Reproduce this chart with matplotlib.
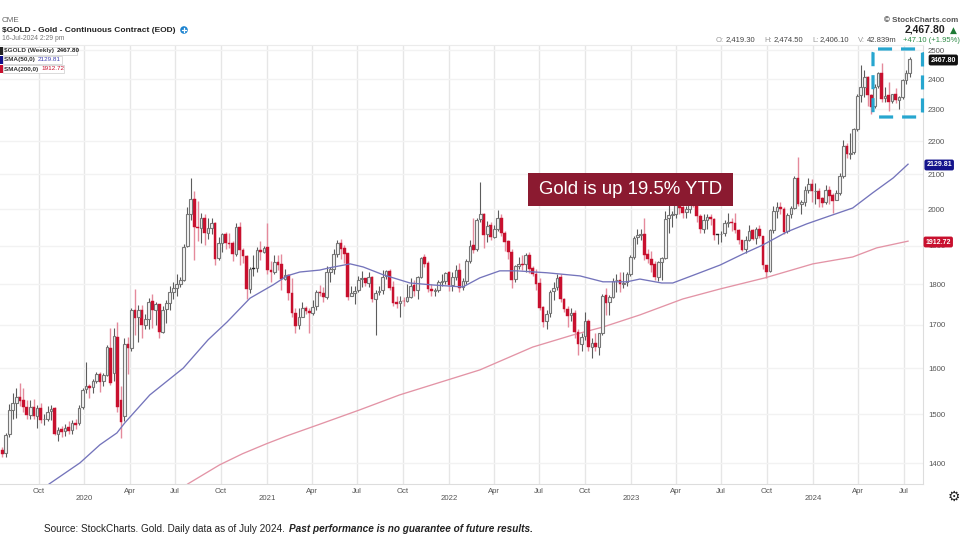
import numpy as np
import pandas as pd
import matplotlib
matplotlib.use("Agg")
import matplotlib.pyplot as plt
import matplotlib.dates as mdates
from matplotlib.patches import Rectangle, Circle, FancyBboxPatch

week_close = [1419,1457,1509,1523,1537,1529,1515,1499,1515,1497,1512,1488,1490,1505,1511,1459,1468,1463,1472,1465,1481,1478,1514,
1552,1560,1557,1571,1587,1570,1584,1649,1566,1674,1516,1484,1654,1645,1736,1717,1735,1700,1713,1756,1735,1751,1683,1737,1753,1780,1790,1801,1810,1897,1985,2028,1949,1947,1975,1934,1947,1962,1866,1907,1930,1906,1905,1879,1951,1889,1872,1788,1840,1840,1888,1883,
1895,1835,1830,1856,1850,1813,1823,1778,1728,1698,1719,1741,1733,1728,1744,1780,1777,1768,1831,1838,1877,1906,1892,1879,1769,1778,1784,1811,1815,1802,1817,1763,1779,1784,1819,1833,1791,1754,1751,1758,1757,1768,1796,1784,1818,1868,1852,1788,1783,1784,1805,1808,1829,
1797,1817,1835,1791,1807,1859,1900,1889,1970,1985,1929,1954,1923,1945,1974,1934,1911,1882,1811,1846,1851,1850,1875,1840,1826,1801,1742,1708,1727,1781,1791,1816,1762,1738,1722,1728,1683,1655,1672,1709,1648,1657,1648,1681,1771,1754,1768,1809,1810,1800,1804,1826,
1869,1921,1928,1929,1876,1865,1850,1817,1856,1867,1973,1983,1986,2011,2004,1990,1999,2025,2019,1981,1944,1969,1977,1971,1929,1929,1932,1961,1962,1960,1942,1914,1889,1915,1940,1919,1945,1925,1848,1832,1942,1994,2006,1999,1938,1984,2003,2089,2014,2019,2053,2071,
2050,2051,2029,2018,2053,2038,2024,2046,2095,2185,2161,2165,2238,2345,2374,2406,2347,2309,2375,2419,2335,2345,2325,2349,2331,2339,2397,2421,2467.8]

week_open = [1426,1420,1458,1509,1523,1537,1530,1515,1499,1516,1497,1513,1489,1490,1506,1512,1459,1469,1464,1473,1466,1482,1481,
1515,1553,1561,1558,1572,1586,1571,1585,1645,1590,1672,1530,1497,1655,1645,1735,1718,1735,1700,1713,1757,1736,1750,1684,1738,1754,1781,1791,1801,1811,1898,1986,2028,1950,1948,1975,1935,1948,1962,1867,1908,1931,1907,1906,1879,1951,1888,1872,1789,1841,1841,1888,
1884,1896,1836,1831,1857,1851,1814,1824,1779,1729,1699,1720,1742,1734,1729,1745,1781,1778,1769,1832,1839,1878,1907,1893,1880,1770,1779,1785,1812,1816,1803,1818,1764,1780,1785,1820,1834,1792,1755,1752,1759,1758,1769,1797,1785,1819,1869,1853,1789,1784,1785,1806,1809,
1830,1798,1818,1836,1792,1808,1860,1901,1890,1971,1986,1930,1955,1924,1946,1975,1935,1912,1883,1812,1847,1852,1851,1876,1841,1827,1802,1743,1709,1728,1782,1792,1817,1763,1739,1723,1729,1684,1656,1673,1710,1649,1658,1649,1682,1772,1755,1769,1810,1811,1801,1805,
1827,1870,1922,1929,1930,1877,1866,1851,1818,1857,1868,1974,1984,1987,2012,2005,1991,2000,2026,2020,1982,1945,1970,1978,1972,1930,1930,1933,1962,1963,1961,1943,1915,1890,1916,1941,1920,1946,1926,1849,1833,1943,1995,2007,2000,1939,1985,2004,2090,2015,2020,2054,
2071,2051,2052,2030,2019,2054,2039,2025,2047,2096,2186,2162,2166,2239,2346,2375,2407,2348,2310,2376,2420,2336,2346,2326,2350,2332,2340,2398,2419.3]

week_high = [1433,1460,1522,1546,1555,1566,1557,1530,1531,1532,1519,1524,1500,1518,1520,1515,1474,1476,1480,1486,1488,1490,1519,
1556,1613,1565,1576,1592,1591,1590,1652,1692,1692,1708,1560,1670,1672,1742,1789,1748,1747,1726,1765,1775,1755,1745,1745,1760,1796,1805,1825,1818,1905,2005,2089,2050,2024,1990,1985,1975,1975,1963,1922,1933,1937,1933,1912,1960,1965,1893,1876,1843,1875,1896,1912,
1900,1962,1860,1875,1875,1878,1840,1825,1815,1740,1740,1755,1745,1740,1760,1785,1797,1793,1846,1845,1890,1916,1919,1902,1880,1795,1796,1820,1834,1812,1830,1820,1785,1795,1835,1835,1838,1808,1770,1770,1768,1800,1815,1810,1822,1870,1878,1860,1800,1790,1810,1825,1830,
1833,1830,1848,1855,1815,1865,1915,1976,1975,2078,1990,1966,1965,1955,1998,1986,1940,1915,1890,1850,1870,1875,1880,1882,1847,1840,1815,1745,1735,1785,1806,1825,1825,1765,1745,1740,1735,1690,1680,1730,1715,1670,1680,1680,1775,1790,1773,1815,1825,1830,1830,1830,
1875,1925,1945,1945,1975,1890,1885,1860,1860,1870,1995,2015,1995,2050,2064,2020,2010,2085,2050,2026,1985,1985,1985,1985,1975,1932,1940,1970,1990,1975,1990,1945,1915,1925,1955,1945,1950,1955,1925,1850,1945,2010,2020,2020,2005,1990,2010,2095,2152,2025,2065,2088,
2085,2075,2060,2035,2070,2065,2045,2055,2105,2205,2195,2225,2240,2350,2448,2430,2410,2350,2385,2425,2454,2375,2390,2350,2370,2345,2400,2430,2474.5]

week_low = [1412,1412,1453,1489,1491,1517,1505,1490,1490,1490,1472,1482,1478,1485,1487,1456,1445,1452,1454,1459,1459,1470,1478,
1511,1545,1535,1546,1568,1547,1561,1582,1563,1571,1504,1451,1485,1588,1640,1677,1660,1670,1690,1690,1692,1700,1670,1680,1704,1737,1763,1770,1792,1807,1896,1970,1863,1913,1906,1901,1917,1932,1850,1862,1883,1890,1895,1860,1873,1850,1855,1764,1777,1820,1830,1861,
1880,1825,1805,1825,1835,1786,1810,1760,1718,1682,1690,1720,1727,1680,1725,1735,1770,1755,1762,1805,1825,1870,1866,1855,1760,1770,1750,1780,1793,1795,1792,1755,1677,1772,1775,1812,1785,1745,1740,1720,1745,1755,1765,1770,1762,1815,1845,1780,1770,1770,1780,1795,1800,
1782,1782,1810,1780,1785,1800,1855,1880,1885,1965,1895,1910,1915,1920,1940,1925,1885,1865,1790,1805,1840,1835,1830,1828,1820,1785,1735,1695,1690,1720,1760,1785,1755,1730,1695,1710,1670,1630,1640,1665,1640,1622,1640,1630,1675,1725,1725,1765,1780,1780,1790,1795,
1820,1865,1905,1915,1862,1855,1830,1810,1808,1810,1865,1935,1950,1975,1985,1975,1975,1990,2005,1965,1935,1935,1945,1955,1915,1905,1910,1925,1950,1940,1935,1905,1885,1880,1912,1915,1905,1920,1840,1815,1830,1935,1975,1985,1930,1935,1975,2000,2010,1985,2010,2045,
2020,2015,2005,2005,2015,2015,1990,2025,2040,2090,2150,2145,2160,2230,2325,2340,2310,2285,2305,2370,2325,2325,2295,2320,2320,2300,2335,2385,2406.1]

sma50_dates = ["2019-10-22","2019-12-23","2020-02-01","2020-03-06","2020-03-22","2020-05-11","2020-07-17","2020-09-05","2020-10-13","2020-11-28",
"2021-01-13","2021-02-10","2021-03-08","2021-04-17","2021-05-07","2021-06-17","2021-07-13","2021-08-22","2021-10-15","2021-11-30",
"2022-01-29","2022-03-04","2022-04-13","2022-05-17","2022-07-17","2022-09-21","2022-11-06","2022-12-24","2023-01-19","2023-03-04","2023-03-26",
"2023-05-13","2023-06-29","2023-08-14","2023-09-23","2023-11-10","2023-12-20","2024-02-04","2024-03-21","2024-04-30","2024-06-10","2024-07-10"]
sma50_vals = [1360,1401,1437,1461,1482,1541,1600,1665,1707,1765,
1798,1821,1831,1836,1842,1852,1844,1824,1803,1798,
1793,1816,1834,1834,1829,1821,1806,1806,1813,1803,1803,
1826,1849,1878,1902,1937,1959,1981,2003,2046,2089,2130]

sma200_dates = ["2020-07-26","2020-09-28","2020-11-13","2020-12-31","2021-02-10","2021-04-17","2021-07-06","2021-09-24","2022-03-04","2022-06-18",
"2022-09-06","2022-11-06","2023-01-19","2023-04-15","2023-06-29","2023-09-27","2024-01-01","2024-03-21","2024-05-08","2024-07-10"]
sma200_vals = [1360,1397,1419,1439,1455,1479,1509,1541,1596,1648,1676,1695,1724,1763,1788,1816,1852,1870,1894,1912]

y_ticks = [1400,1500,1600,1700,1800,1900,2000,2100,2200,2300,2400,2500]
x_tick_dates = ["2019-10-01","2020-01-01","2020-04-01","2020-07-01","2020-10-01","2021-01-01","2021-04-01","2021-07-01","2021-10-01",
"2022-01-01","2022-04-01","2022-07-01","2022-10-01","2023-01-01","2023-04-01","2023-07-01","2023-10-01","2024-01-01","2024-04-01","2024-07-01"]
x_tick_labels = ["Oct","\n2020","Apr","Jul","Oct","\n2021","Apr","Jul","Oct","\n2022","Apr","Jul","Oct","\n2023","Apr","Jul","Oct","\n2024","Apr","Jul"]

plt.rcParams['font.family'] = ['Liberation Sans', 'DejaVu Sans']
W, H = 960, 540
fig = plt.figure(figsize=(W/100, H/100), dpi=100, facecolor='white')
L_PX, R_PX, T_PX, B_PX = 0, 923, 45, 484
ax = fig.add_axes([L_PX/W, 1-B_PX/H, (R_PX-L_PX)/W, (B_PX-T_PX)/H])

RED, RED_WICK = '#c8102e', '#e58a9c'
DARK, DARK_WICK = '#777777', '#5c5c5c'

dates = pd.date_range(end='2024-07-13', periods=len(week_close), freq='W-SAT')
xd = mdates.date2num(dates)
o, h, l, c = map(np.array, (week_open, week_high, week_low, week_close))
prev = np.r_[o[0], c[:-1]]
is_red = c < prev
filled = c < o

ax.set_yscale('log')
base = mdates.date2num(pd.Timestamp('2020-01-01'))
ax.set_xlim(base-169.5, base+1682)
ax.set_ylim(1360, 2517.6)

ax.plot(mdates.date2num(pd.to_datetime(sma50_dates)), sma50_vals, color='#7474bb', lw=0.95, zorder=4.5)
ax.plot(mdates.date2num(pd.to_datetime(sma200_dates)), sma200_vals, color='#e394a6', lw=0.95, zorder=2.5)

ax.vlines(xd[is_red], l[is_red], h[is_red], color=RED_WICK, lw=1.0, zorder=3)
ax.vlines(xd[~is_red], l[~is_red], h[~is_red], color=DARK_WICK, lw=0.8, zorder=3)
bottoms = np.minimum(o, c)
heights = np.maximum(np.abs(c-o), 1.5)
w = 5.4
ax.bar(xd[filled & is_red], heights[filled & is_red], bottom=bottoms[filled & is_red], width=w, color=RED, edgecolor=RED, lw=0.3, zorder=4)
ax.bar(xd[filled & ~is_red], heights[filled & ~is_red], bottom=bottoms[filled & ~is_red], width=w, color='#222222', edgecolor='#222222', lw=0.3, zorder=4)
ax.bar(xd[~filled], heights[~filled], bottom=bottoms[~filled], width=w, facecolor='#f4f4f4', edgecolor=DARK, lw=0.8, zorder=4)

ax.yaxis.tick_right()
ax.set_yticks(y_ticks)
ax.set_yticklabels([str(v) for v in y_ticks])
ax.yaxis.set_minor_locator(matplotlib.ticker.NullLocator())
ax.yaxis.set_minor_formatter(matplotlib.ticker.NullFormatter())
ax.set_xticks(mdates.date2num(pd.to_datetime(x_tick_dates)))
ax.set_xticklabels(x_tick_labels, linespacing=0.95)
ax.tick_params(axis='x', length=0, pad=3, labelsize=5.6, labelcolor='#555555')
ax.tick_params(axis='y', length=0, pad=3.5, labelsize=5.6, labelcolor='#555555')
ax.grid(True, axis='x', color='#e6e6e6', lw=1.0)
ax.grid(True, axis='y', color='#f2f2f2', lw=1.0)
ax.set_axisbelow(True)
ax.spines['left'].set_visible(False)
ax.spines['top'].set_color('#ebebeb')
ax.spines['bottom'].set_color('#dddddd')
ax.spines['right'].set_color('#dddddd')

ov = fig.add_axes([0, 0, 1, 1], facecolor='none')
ov.set_xlim(0, W); ov.set_ylim(H, 0); ov.axis('off')

# Header
ov.text(2, 20, "CME", fontsize=5.8, color='#666666', va='center')
ov.text(2, 30, "$GOLD - Gold - Continuous Contract (EOD)", fontsize=6.05, fontweight='bold', color='#222222', va='center')
ov.add_patch(Circle((184, 30), 3.8, color='#1c83d0', lw=0))
ov.plot([181.8, 186.2], [30, 30], color='white', lw=0.9)
ov.plot([184, 184], [27.8, 32.2], color='white', lw=0.9)
ov.text(2, 39, "16-Jul-2024 2:29 pm", fontsize=4.9, color='#777777', va='center')

rows = [("$GOLD (Weekly) ", "2467.80", '#222222', '#222222', 'bold', 50.5, 74),
        ("SMA(50,0) ", "2129.81", '#10108a', '#4040b0', 'normal', 59.5, 59),
        ("SMA(200,0) ", "1912.72", '#c8102e', '#c8102e', 'normal', 69, 61)]
for lab, val, sw, vc, vw, y, wd in rows:
    ov.add_patch(Rectangle((0, y-4), 3, 8, color=sw, lw=0, zorder=6))
    ov.add_patch(Rectangle((3, y-4), wd, 8, facecolor='white', edgecolor='#cccccc', lw=0.5, zorder=6))
    t = ov.text(4.5, y, lab, fontsize=4.6, fontweight='bold', color='#333333', va='center', zorder=7)
    r = t.get_window_extent(fig.canvas.get_renderer())
    ov.text(r.x1*W/fig.bbox.width + 0.5, y, val, fontsize=4.6, color=vc, fontweight=vw, va='center', zorder=7)

# Top-right quote block
ov.text(958, 20, "© StockCharts.com", fontsize=5.8, color='#555555', ha='right', va='center', fontweight='bold')
ov.text(945, 30, "2,467.80", fontsize=7.5, fontweight='bold', color='#222222', ha='right', va='center')
ov.text(953, 30, "▲", fontsize=6.5, color='#1e7a34', ha='center', va='center', family='DejaVu Sans')
for x0, txt, col in [(716, "O:", '#999999'), (726, "2,419.30", '#444444'), (764, "H:", '#999999'), (774, "2,474.50", '#444444'),
                     (812, "L:", '#999999'), (820, "2,406.10", '#444444'), (858, "V:", '#999999'), (867, "42.839m", '#444444'),
                     (903, "+47.10 (+1.95%)", '#2e8b46')]:
    ov.text(x0, 40, txt, fontsize=5.5, color=col, va='center')

# Price tags
for txt, y, col, xr in [("2467.80", 60, '#111111', 959), ("2129.81", 165, '#14148c', 955), ("1912.72", 242, '#c8102e', 954)]:
    ov.text(xr-3, y, txt, fontsize=5.0, fontweight='bold', color='white', ha='right', va='center', zorder=8,
            bbox=dict(boxstyle='round,pad=0.28', fc=col, ec='none'))

# Dashed box
ov.add_patch(FancyBboxPatch((873, 49), 49.5, 68, boxstyle='round,pad=0,rounding_size=5', fill=False,
                            edgecolor='#27a6cf', lw=2.3, linestyle=(0, (4.4, 2.8)), zorder=7))

# Banner
ov.add_patch(Rectangle((528, 173), 205, 33, color='#8b1a30', lw=0, zorder=9))
ov.text(630.5, 190, "Gold is up 19.5% YTD", fontsize=13.4, color='white', ha='center', va='center', zorder=10)

# Gear
ov.text(954, 497, "⚙", fontsize=10, color='#222222', ha='center', va='center', family='DejaVu Sans')

# Source
t = ov.text(44, 529, "Source: StockCharts. Gold. Daily data as of July 2024. ", fontsize=7.2, color='#222222', va='center')
r = t.get_window_extent(fig.canvas.get_renderer())
ov.text(r.x1*W/fig.bbox.width + 1, 529, "Past performance is no guarantee of future results.", fontsize=7.2,
        fontweight='bold', fontstyle='italic', color='#222222', va='center')

fig.savefig('out.png', dpi=100)
